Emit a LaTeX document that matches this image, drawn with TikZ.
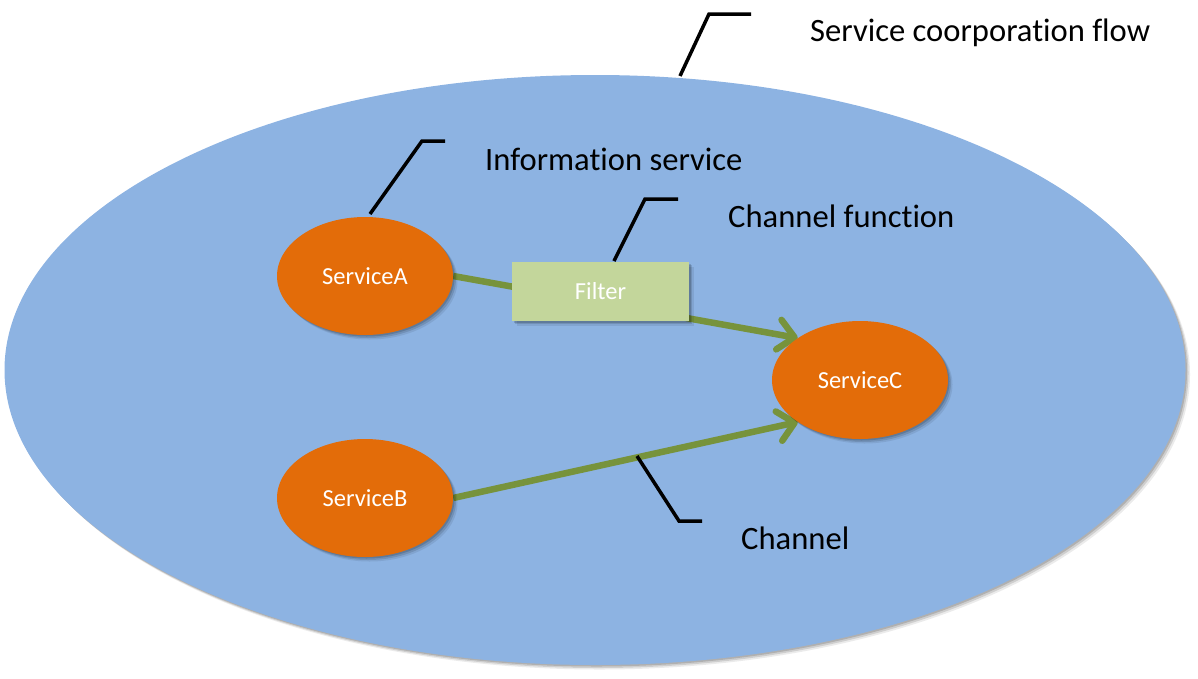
\documentclass[tikz,border=0pt]{standalone}
\usepackage{fontspec}
\setmainfont{Carlito}[Ligatures=NoCommon]
\usetikzlibrary{arrows.meta,shadows,shapes.geometric}
\definecolor{bigblue}{HTML}{8DB3E2}
\definecolor{svcorange}{HTML}{E36C09}
\definecolor{chgreen}{HTML}{77933C}
\definecolor{filtgreen}{HTML}{C3D69B}
\pgfdeclarelayer{background}
\pgfdeclarelayer{lines}
\pgfsetlayers{background,lines,main}
\tikzset{
  softshadow/.style={
    drop shadow={shadow xshift=1.5pt, shadow yshift=-1.5pt, opacity=0.15, fill=black},
    drop shadow={shadow xshift=3pt, shadow yshift=-3pt, opacity=0.12, fill=black},
    drop shadow={shadow xshift=4.5pt, shadow yshift=-4.5pt, opacity=0.08, fill=black}},
  svc/.style={ellipse, fill=svcorange, minimum width=176pt, minimum height=118pt, inner sep=0pt,
    text=white, font=\fontsize{24.5}{28}\selectfont, softshadow},
  filterbox/.style={rectangle, fill=filtgreen, minimum width=177pt, minimum height=59pt, inner sep=0pt,
    text=white, font=\fontsize{24.5}{28}\selectfont, softshadow},
  channel/.style={draw=chgreen, line width=6.5pt,
    -{Straight Barb[length=16pt,width=30pt,line cap=round,line join=round]}},
  callout/.style={draw=black, line width=3.5pt},
  lbl/.style={anchor=base west, inner sep=0pt, text=black, font=\fontsize{32.6}{38}\selectfont},
}
\begin{document}
\begin{tikzpicture}[x=1pt,y=-1pt]
\useasboundingbox (0,0) rectangle (1198,678);
\begin{pgfonlayer}{background}
\node[ellipse, fill=bigblue, minimum width=1181pt, minimum height=590pt, inner sep=0pt,
  softshadow] (flow) at (595,370) {};
\end{pgfonlayer}

\node[svc] (A) at (365,276) {ServiceA};
\node[svc] (B) at (365,498) {ServiceB};
\node[svc] (C) at (860,380) {ServiceC};
\node[filterbox] (F) at (600.5,291.5) {Filter};

\begin{pgfonlayer}{lines}
\draw[channel] (A.east) -- (C.146);
\draw[channel] (B.east) -- (C.214);
\end{pgfonlayer}

% labels
\node[lbl] (tflow) at (810,41) {Service coorporation flow};
\node[lbl] (tinfo) at (485,170) {Information service};
\node[lbl] (tfunc) at (728,227) {Channel function};
\node[lbl] (tchan) at (741,549) {Channel};

% callouts
\coordinate (cflow) at (680,76);
\coordinate (cinfo) at (370,214);
\coordinate (cfunc) at (614,261);
\coordinate (cchan) at (637,456);
\draw[callout] (cflow) -- (709,14) -- (751,14);
\draw[callout] (cinfo) -- (422,141) -- (445,141);
\draw[callout] (cfunc) -- (645,199) -- (678,199);
\draw[callout] (cchan) -- (679,521) -- (702,521);
\end{tikzpicture}
\end{document}
